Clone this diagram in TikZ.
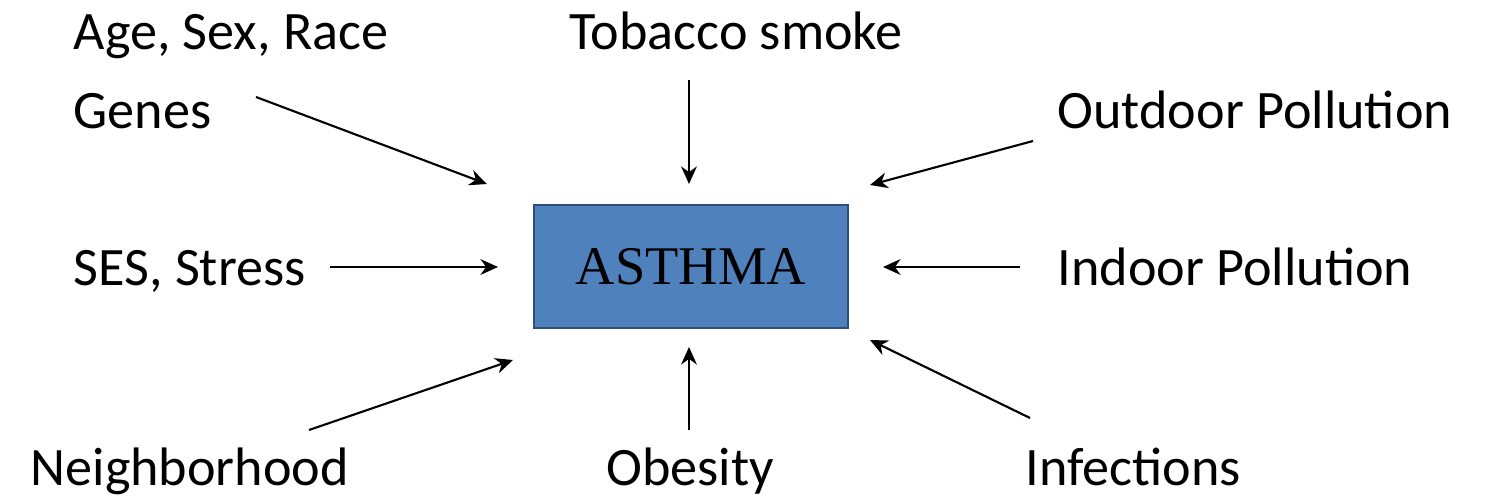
\documentclass[tikz,border=0pt]{standalone}
\usepackage{fontspec}
\setmainfont{Carlito}
\newfontfamily\serifasthma{Liberation Serif}
\usetikzlibrary{arrows.meta}
\definecolor{boxblue}{HTML}{4F81BD}
\definecolor{boxedge}{HTML}{2F4F7A}
\begin{document}
\begin{tikzpicture}[x=0.01cm,y=-0.01cm,
  lbl/.style={inner sep=0pt,font=\fontsize{15.4pt}{18pt}\selectfont},
  arr/.style={line width=0.6pt,-{Stealth[length=5pt,width=4.5pt]}}]
\useasboundingbox (0,0) rectangle (1487,500);
\node[draw=boxedge,fill=boxblue,line width=0.6pt,minimum width=314*0.01cm,minimum height=123*0.01cm,inner sep=0pt,
  font=\serifasthma\fontsize{15.5pt}{18pt}\selectfont] (asthma) at (691,266.5) {ASTHMA};
\node[lbl,anchor=base west] (age) at (73,50) {Age, Sex, Race};
\node[lbl,anchor=base west] (genes) at (73,128) {Genes};
\node[lbl,anchor=base west] (ses) at (73,285) {SES, Stress};
\node[lbl,anchor=base west] (neigh) at (30,485) {Neighborhood};
\node[lbl,anchor=base] (tob) at (736,50) {Tobacco smoke};
\node[lbl,anchor=base] (obe) at (690,485) {Obesity};
\node[lbl,anchor=base west] (outd) at (1057,128) {Outdoor Pollution};
\node[lbl,anchor=base west] (ind) at (1057,285) {Indoor Pollution};
\node[lbl,anchor=base west] (inf) at (1025,485) {Infections};
\coordinate (g1) at (256,97); \coordinate (g2) at (487,184);
\coordinate (t1) at (689,80); \coordinate (t2) at (689,184);
\coordinate (o1) at (1033,141); \coordinate (o2) at (870,185);
\coordinate (s1) at (330,267); \coordinate (s2) at (498,267);
\coordinate (i1) at (1020,267); \coordinate (i2) at (883,267);
\coordinate (n1) at (309,430); \coordinate (n2) at (513,360);
\coordinate (b1) at (689,430); \coordinate (b2) at (689,347);
\coordinate (f1) at (1030,418); \coordinate (f2) at (870,340);
\draw[arr] (g1) -- (g2);
\draw[arr] (t1) -- (t2);
\draw[arr] (o1) -- (o2);
\draw[arr] (s1) -- (s2);
\draw[arr] (i1) -- (i2);
\draw[arr] (n1) -- (n2);
\draw[arr] (b1) -- (b2);
\draw[arr] (f1) -- (f2);
\end{tikzpicture}
\end{document}
